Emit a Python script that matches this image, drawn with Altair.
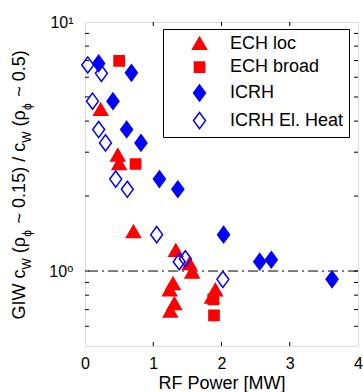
import altair as alt
import pandas as pd

# ---------------- data ----------------
series_names = ["ECH loc", "ECH broad", "ICRH", "ICRH El. Heat"]

ech_loc_x = [0.23, 0.48, 0.50, 0.71, 1.33, 1.53, 1.57, 1.29, 1.24, 1.31, 1.25, 1.91, 1.86]
ech_loc_y = [4.45, 2.92, 2.70, 1.44, 1.21, 1.07, 0.99, 0.89, 0.84, 0.74, 0.69, 0.84, 0.785]

ech_broad_x = [0.50, 0.74, 1.88, 1.89]
ech_broad_y = [6.98, 2.69, 0.77, 0.664]

icrh_x = [0.20, 0.68, 0.41, 0.61, 0.82, 1.09, 1.36, 2.03, 2.56, 2.73, 3.62]
icrh_y = [6.82, 6.25, 4.81, 3.70, 3.27, 2.34, 2.13, 1.40, 1.09, 1.11, 0.926]

icrh_el_x = [0.04, 0.24, 0.11, 0.20, 0.30, 0.45, 0.62, 1.05, 1.38, 1.47, 2.02]
icrh_el_y = [6.72, 6.22, 4.81, 3.70, 3.27, 2.34, 2.13, 1.40, 1.09, 1.12, 0.926]

x_tick_labels = [0, 1, 2, 3, 4]
y_label_values = [1, 10]
y_label_texts = ["10\u2070", "10\u00b9"]
y_minor_ticks = [0.6, 0.7, 0.8, 0.9, 1, 2, 3, 4, 5, 6, 7, 8, 9]
x_minor_ticks = [1, 2, 3]
reference_level = [1.0]

rows = []
for name, xs, ys in zip(series_names,
                        [ech_loc_x, ech_broad_x, icrh_x, icrh_el_x],
                        [ech_loc_y, ech_broad_y, icrh_y, icrh_el_y]):
    for xv, yv in zip(xs, ys):
        rows.append({"series": name, "power": xv, "ratio": yv})
df = pd.DataFrame(rows)

# ---------------- style ----------------
W, H = 273, 324
FONT = "Liberation Sans, Arial, DejaVu Sans"

tri = "M0,-0.74L0.82,0.68L-0.82,0.68Z"
sq = "M-0.6,-0.6H0.6V0.6H-0.6Z"
dia = "M0,-0.95L0.7,0L0,0.95L-0.7,0Z"
shape_range = [tri, sq, dia, dia]
stroke_range = ["#ff0000", "#ff0000", "#0000ff", "#0000ff"]
fill_range = ["#ff0000", "#ff0000", "#0000ff", "transparent"]

xscale = alt.Scale(domain=[0, 4], nice=False, zero=False)
yscale = alt.Scale(type="log", domain=[0.5, 10], nice=False)

label_expr = " : ".join(
    [f"datum.value == {v} ? '{t}'" for v, t in zip(y_label_values[:-1], y_label_texts[:-1])]
    + [f"'{y_label_texts[-1]}'"]
)

xaxis = alt.Axis(values=x_tick_labels, format="d", title="RF Power [MW]",
                 labelFontSize=16, labelPadding=9, labelFlush=False,
                 titleFontSize=18, titleFontWeight="normal", titlePadding=3,
                 labelFont=FONT, titleFont=FONT, domain=False, ticks=False, grid=False)
yaxis = alt.Axis(values=y_label_values, labelExpr=label_expr, title="",
                 labelFontSize=16, labelPadding=12, labelFlush=False,
                 labelFont=FONT, domain=False, ticks=False, grid=False)

leg = alt.Legend(
    orient="none", legendX=78, legendY=7, title=None,
    labelFontSize=18, labelFont=FONT, labelColor="black", labelLimit=0,
    symbolSize=289, symbolStrokeWidth=1.5, symbolOffset=22, labelOffset=21,
    padding=5, rowPadding=4.7, strokeColor="black", fillColor="white",
    cornerRadius=0,
)

points = alt.Chart(df).mark_point(opacity=1, strokeWidth=1.5, size=289).encode(
    x=alt.X("power:Q", scale=xscale, axis=xaxis),
    y=alt.Y("ratio:Q", scale=yscale, axis=yaxis),
    shape=alt.Shape("series:N", scale=alt.Scale(domain=series_names, range=shape_range), legend=leg),
    fill=alt.Fill("series:N", scale=alt.Scale(domain=series_names, range=fill_range), legend=leg),
    stroke=alt.Stroke("series:N", scale=alt.Scale(domain=series_names, range=stroke_range), legend=leg),
)

refline = alt.Chart(pd.DataFrame({"v": reference_level})).mark_rule(
    color="black", strokeWidth=1, strokeDash=[10, 4, 2, 4]
).encode(y=alt.Y("v:Q", scale=yscale, axis=yaxis))

yt = pd.DataFrame({"v": y_minor_ticks})
xt = pd.DataFrame({"v": x_minor_ticks})
TL = 4
left_ticks = alt.Chart(yt).mark_rule(color="black", strokeWidth=1).encode(
    y=alt.Y("v:Q", scale=yscale, axis=yaxis), x=alt.value(0), x2=alt.value(TL))
right_ticks = alt.Chart(yt).mark_rule(color="black", strokeWidth=1).encode(
    y=alt.Y("v:Q", scale=yscale, axis=yaxis), x=alt.value(W - TL), x2=alt.value(W))
bottom_ticks = alt.Chart(xt).mark_rule(color="black", strokeWidth=1).encode(
    x=alt.X("v:Q", scale=xscale, axis=xaxis), y=alt.value(H - TL), y2=alt.value(H))
top_ticks = alt.Chart(xt).mark_rule(color="black", strokeWidth=1).encode(
    x=alt.X("v:Q", scale=xscale, axis=xaxis), y=alt.value(0), y2=alt.value(TL))

# y-axis title built from pieces (subscripts)
one = pd.DataFrame({"a": [0]})
MAIN_X, SUB_X = -60, -54
title_parts = [
    ("GIW c", 18, MAIN_X, 297.5),
    ("W", 12, SUB_X, 247.5),
    ("(\u03c1", 18, MAIN_X, 231.2),
    ("\u03d5", 12, SUB_X, 214.8),
    ("~ 0.15) / c", 18, MAIN_X, 201.4),
    ("W", 12, SUB_X, 120.8),
    ("(\u03c1", 18, MAIN_X, 104.5),
    ("\u03d5", 12, SUB_X, 88.1),
    ("~ 0.5)", 18, MAIN_X, 74.7),
]
title_layers = [
    alt.Chart(one).mark_text(text=t, fontSize=fs, angle=270, align="left",
                             baseline="alphabetic", font=FONT, color="black").encode(
        x=alt.value(px), y=alt.value(py))
    for t, fs, px, py in title_parts
]

chart = alt.layer(
    refline, left_ticks, right_ticks, bottom_ticks, top_ticks, points, *title_layers
).properties(
    width=W, height=H,
    autosize=alt.AutoSizeParams(type="none"),
    padding={"left": 85, "top": 22, "right": 5, "bottom": 46},
).configure_view(
    stroke="black", strokeWidth=1
).configure_axis(
    labelColor="black", titleColor="black"
).configure(background="white")

chart.save("out.html", embed_options={"renderer": "svg", "actions": False})
